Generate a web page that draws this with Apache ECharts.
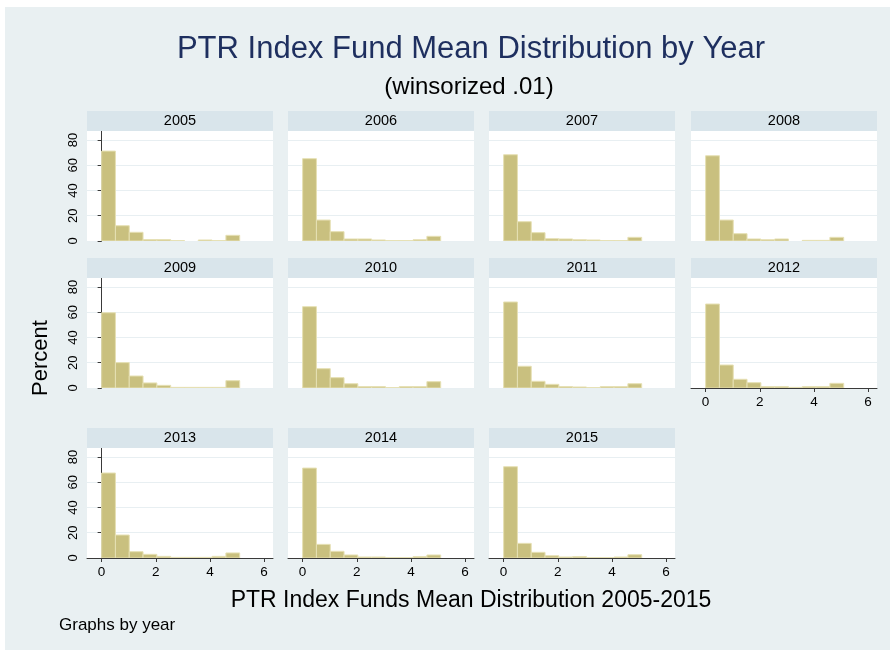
<!DOCTYPE html>
<html>
<head>
<meta charset="utf-8">
<script src="https://cdn.jsdelivr.net/npm/echarts@6/dist/echarts.min.js"></script>
<style>
html,body{margin:0;padding:0;background:#fff}
#main{width:896px;height:655px}
</style>
</head>
<body>
<div id="main"></div>
<script>
// data (percent per bin)
var years = ['2005','2006','2007','2008','2009','2010','2011','2012','2013','2014','2015'];
var binEdges = [0, 0.51, 1.02, 1.53, 2.04, 2.55, 3.06, 3.57, 4.08, 4.59, 5.1];
var pct2005 = [71.2, 12.1, 6.9, 1.1, 1.1, 0.3, 0, 0.8, 0.3, 4.5];
var pct2006 = [65.2, 16.6, 7.4, 1.6, 1.6, 0.8, 0.3, 0.3, 1.0, 3.7];
var pct2007 = [68.3, 15.3, 6.6, 1.8, 1.6, 1.0, 0.8, 0.3, 0.3, 2.9];
var pct2008 = [67.5, 16.6, 5.8, 1.6, 1.0, 1.6, 0, 0.5, 0.5, 2.9];
var pct2009 = [59.6, 20.1, 9.5, 4.0, 2.1, 0.5, 0.5, 0.5, 0.5, 5.8];
var pct2010 = [64.4, 15.3, 8.2, 3.4, 1.1, 1.1, 0.3, 1.1, 1.1, 5.0];
var pct2011 = [68.1, 17.2, 5.3, 2.9, 1.1, 0.8, 0.3, 1.1, 1.1, 3.4];
var pct2012 = [66.5, 18.2, 6.9, 4.2, 1.1, 1.1, 0.5, 1.1, 1.1, 3.7];
var pct2013 = [67.3, 18.2, 5.0, 2.9, 1.3, 0.5, 0.5, 0.5, 1.3, 4.0];
var pct2014 = [71.2, 10.8, 5.3, 2.4, 0.8, 0.8, 0.3, 0.3, 1.1, 2.4];
var pct2015 = [72.3, 11.6, 4.5, 1.8, 0.8, 1.1, 0.3, 0.3, 0.8, 2.6];
var percents = [pct2005, pct2006, pct2007, pct2008, pct2009, pct2010, pct2011, pct2012, pct2013, pct2014, pct2015];
var yTicks = [0, 20, 40, 60, 80];
var xTicks = [0, 2, 4, 6];

var colLeft = [87, 288, 489, 691];
var rowTop = [131, 278, 448];
var panelW = 186, panelH = 110, stripH = 20;
var bottomPanels = [7, 8, 9, 10];

var barFill = '#c9c07f';
var barLine = '#e6e0b4';
var gridColor = '#e8eff2';
var stripColor = '#d9e5eb';

var chart = echarts.init(document.getElementById('main'));

var grids = [], xAxes = [], yAxes = [], series = [];
var elements = [
	{type:'rect', shape:{x:5, y:7, width:885, height:643}, style:{fill:'#e9f0f2'}, z:-100, silent:true}
];

for(var i = 0;i<years.length;i++){
	var c = i % 4, r = Math.floor(i / 4);
	var isLeft = c == 0;
	var isBottom = bottomPanels.indexOf(i) >= 0;
	grids.push({
		left:colLeft[c], top:rowTop[r], width:panelW, height:panelH,
		show:true, backgroundColor:'#fff', borderWidth:0
	});
	xAxes.push({
		type:'value', gridIndex:i, min:-0.54, max:6.33,
		splitLine:{show:false},
		axisLine:{show:isBottom, onZero:false, lineStyle:{color:'#3a3a3a', width:1}},
		axisTick:{show:isBottom, length:4, customValues:xTicks, lineStyle:{color:'#3a3a3a'}},
		axisLabel:{show:isBottom, customValues:xTicks, fontSize:13.5, color:'#000', margin:7, fontFamily:'Liberation Sans, Arial'}
	});
	yAxes.push({
		type:'value', gridIndex:i, min:0, max:87.1, interval:20,
		splitLine:{show:true, lineStyle:{color:gridColor, width:1}},
		axisLine:{show:isLeft, lineStyle:{color:'#3a3a3a', width:1}},
		axisTick:{show:isLeft, length:4, customValues:yTicks, lineStyle:{color:'#3a3a3a'}},
		axisLabel:{show:isLeft, rotate:90, customValues:yTicks, fontSize:13, color:'#000', margin:7, fontFamily:'Liberation Sans, Arial'}
	});
	var data = [];
	for(var k = 0;k<percents[i].length;k++){
		data.push([binEdges[k], binEdges[k+1], percents[i][k]]);
	}
	series.push({
		type:'custom', xAxisIndex:i, yAxisIndex:i, clip:true,
		encode:{x:[0,1], y:2},
		data:data,
		renderItem:function(params, api){
			var h = api.value(2);
			if(h <= 0) return null;
			var p0 = api.coord([api.value(0), h]);
			var p1 = api.coord([api.value(1), 0]);
			return {
				type:'rect',
				shape:{x:p0[0], y:p0[1], width:p1[0]-p0[0], height:p1[1]-p0[1]},
				style:{fill:barFill, stroke:barLine, lineWidth:1}
			};
		}
	});
	// strip heading for the panel
	elements.push({
		type:'rect', shape:{x:colLeft[c], y:rowTop[r]-stripH, width:panelW, height:stripH},
		style:{fill:stripColor}, z:10, silent:true
	});
	elements.push({
		type:'text', x:colLeft[c]+panelW/2, y:rowTop[r]-stripH/2, z:11,
		style:{text:years[i], fill:'#000', fontSize:14.5, fontFamily:'Liberation Sans, Arial', textAlign:'center', textVerticalAlign:'middle'}
	});
}

elements.push({
	type:'text', x:471, y:49, z:11,
	style:{text:'PTR Index Fund Mean Distribution by Year', fill:'#1e2f5f', fontSize:31, fontFamily:'Liberation Sans, Arial', textAlign:'center', textVerticalAlign:'middle'}
});
elements.push({
	type:'text', x:469, y:87, z:11,
	style:{text:'(winsorized .01)', fill:'#000', fontSize:24, fontFamily:'Liberation Sans, Arial', textAlign:'center', textVerticalAlign:'middle'}
});
elements.push({
	type:'text', x:471, y:601, z:11,
	style:{text:'PTR Index Funds Mean Distribution 2005-2015', fill:'#000', fontSize:23, fontFamily:'Liberation Sans, Arial', textAlign:'center', textVerticalAlign:'middle'}
});
elements.push({
	type:'text', x:41, y:358, rotation:Math.PI/2, z:11,
	style:{text:'Percent', fill:'#000', fontSize:22, fontFamily:'Liberation Sans, Arial', textAlign:'center', textVerticalAlign:'middle'}
});
elements.push({
	type:'text', x:59, y:625, z:11,
	style:{text:'Graphs by year', fill:'#000', fontSize:17, fontFamily:'Liberation Sans, Arial', textAlign:'left', textVerticalAlign:'middle'}
});

chart.setOption({
	backgroundColor:'#fff',
	animation:false,
	grid:grids,
	xAxis:xAxes,
	yAxis:yAxes,
	series:series,
	graphic:{elements:elements}
});
</script>
</body>
</html>
